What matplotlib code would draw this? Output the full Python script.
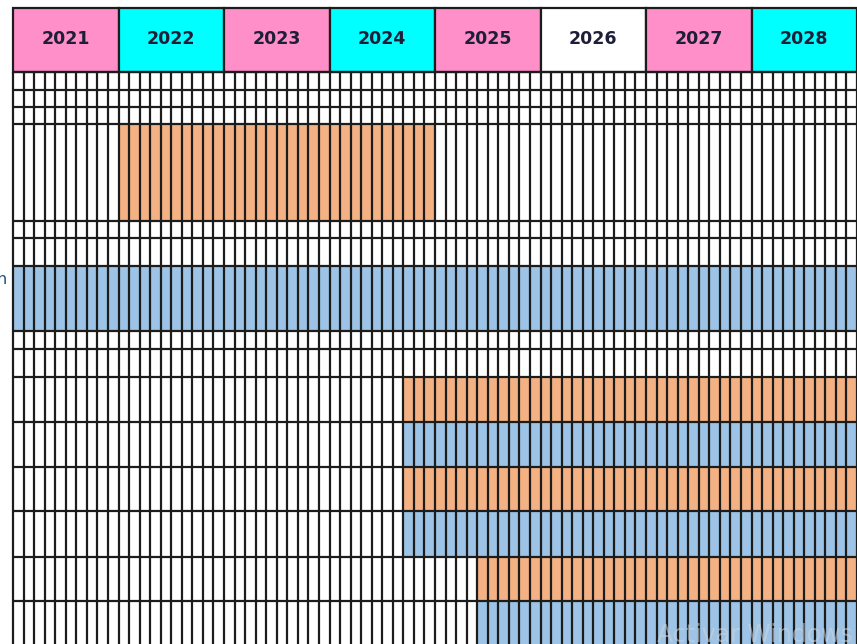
import matplotlib
matplotlib.use("Agg")
import matplotlib.pyplot as plt
from matplotlib.patches import Rectangle

# ---- data ----
years = [2021, 2022, 2023, 2024, 2025, 2026, 2027, 2028]
header_colors = ["#FF8FC8", "#00FFFF", "#FF8FC8", "#00FFFF",
                 "#FF8FC8", "#FFFFFF", "#FF8FC8", "#00FFFF"]
periods_per_year = 10

# row boundaries (pixel rows of the sheet, below the header)
row_edges = [72, 90, 107, 124, 221, 238, 266, 331, 349, 377,
             422, 467, 511, 557, 601, 660]

# bars: row index, start (year), end (year), color
bar_rows = [3, 6, 9, 10, 11, 12, 13, 14]
bar_start = [2022.0, 2021.0, 2024.7, 2024.7, 2024.7, 2024.7, 2025.4, 2025.4]
bar_end = [2025.0, 2029.0, 2029.0, 2029.0, 2029.0, 2029.0, 2029.0, 2029.0]
ORANGE = "#F4B183"
BLUE = "#9DC3E6"
bar_colors = [ORANGE, BLUE, ORANGE, BLUE, ORANGE, BLUE, ORANGE, BLUE]

# ---- figure ----
W, H = 857, 644
fig = plt.figure(figsize=(W / 100, H / 100), dpi=100)
fig.patch.set_facecolor("white")
left_px = 13
ax = fig.add_axes([left_px / W, 0, 1 - left_px / W, 1])
ax.set_xlim(years[0], years[-1] + 1)
ax.set_ylim(H, 0)
ax.axis("off")

LINE = "#1c1c1c"
LW = 1.6
header_top, header_bot = 8, 72

# header cells
for y, c in zip(years, header_colors):
    ax.add_patch(Rectangle((y, header_top), 1, header_bot - header_top,
                           facecolor=c, edgecolor=LINE, lw=LW, clip_on=False, zorder=2))
    ax.text(y + 0.5, (header_top + header_bot) / 2 - 1, str(y), ha="center", va="center",
            fontsize=12.5, fontweight="bold", color="#1E1E38", zorder=3)

# bars
for r, s, e, c in zip(bar_rows, bar_start, bar_end, bar_colors):
    y0, y1 = row_edges[r], row_edges[r + 1]
    ax.add_patch(Rectangle((s, y0), e - s, y1 - y0, facecolor=c,
                           edgecolor="none", zorder=1))

# grid lines
x0, x1 = years[0], years[-1] + 1
n_cols = len(years) * periods_per_year
for i in range(n_cols + 1):
    x = x0 + i / periods_per_year
    ax.plot([x, x], [header_bot, H + 10], color=LINE, lw=LW, zorder=4,
            solid_capstyle="butt", clip_on=False)
for yy in row_edges[:-1]:
    ax.plot([x0, x1], [yy, yy], color=LINE, lw=LW, zorder=4,
            solid_capstyle="butt", clip_on=False)

# truncated label at left margin
fig.text(7 / W, 1 - 279 / H, "n", ha="right", va="center", fontsize=11.5,
         color="#1F4E79")

# faint watermark
fig.text(657 / W, 1 - 642 / H, "Activar Windows", ha="left", va="baseline",
         fontsize=17, color="#D0D4DA", alpha=0.55, zorder=10)

fig.savefig("out.png", dpi=100, facecolor="white")
